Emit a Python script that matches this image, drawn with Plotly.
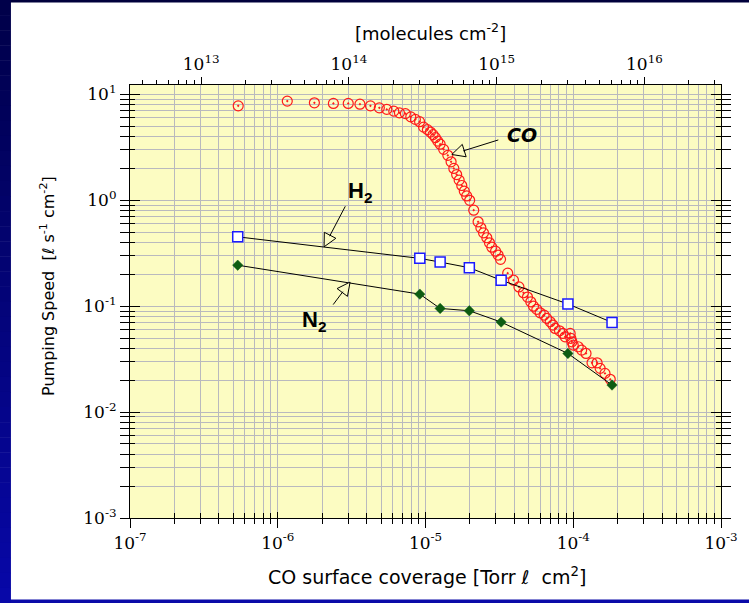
import math
import plotly.graph_objects as go

# ---- data -------------------------------------------------------------
# CO: pumping speed [l s^-1 cm^-2] vs. CO surface coverage [Torr l cm^-2]
co_cov = [5.4e-7, 1.16e-6, 1.77e-6, 2.38e-6, 3.0e-6, 3.6e-6, 4.24e-6, 4.87e-6,
          5.47e-6, 6.10e-6, 6.66e-6, 7.31e-6, 7.95e-6, 8.54e-6, 9.12e-6, 9.71e-6,
          1.03e-5, 1.08e-5, 1.125e-5, 1.167e-5, 1.21e-5, 1.256e-5, 1.327e-5,
          1.416e-5, 1.49e-5, 1.555e-5, 1.625e-5, 1.69e-5, 1.76e-5, 1.83e-5,
          1.90e-5, 1.99e-5, 2.12e-5, 2.27e-5, 2.37e-5, 2.47e-5, 2.60e-5, 2.71e-5,
          2.81e-5, 2.98e-5, 3.10e-5, 3.22e-5, 3.60e-5, 3.94e-5, 4.29e-5, 4.60e-5,
          4.90e-5, 5.16e-5, 5.38e-5, 5.67e-5, 5.97e-5, 6.35e-5, 6.62e-5, 6.98e-5,
          7.28e-5, 7.54e-5, 8.07e-5, 8.51e-5, 8.81e-5, 9.53e-5, 9.64e-5, 9.79e-5,
          1.00e-4, 1.08e-4, 1.14e-4, 1.22e-4, 1.34e-4, 1.45e-4, 1.52e-4, 1.64e-4,
          1.78e-4]
co_speed = [7.80, 8.65, 8.33, 8.22, 8.22, 8.09, 7.80, 7.47, 7.22, 6.95, 6.70,
            6.59, 6.14, 5.81, 5.53, 4.91, 4.65, 4.41, 4.17, 3.91, 3.62, 3.39,
            3.03, 2.66, 2.31, 2.00, 1.75, 1.55, 1.38, 1.22, 1.10, 1.00, 0.807,
            0.627, 0.550, 0.493, 0.443, 0.397, 0.361, 0.331, 0.304, 0.277, 0.205,
            0.176, 0.152, 0.134, 0.122, 0.110, 0.100, 0.0933, 0.0867, 0.0824,
            0.0767, 0.0713, 0.0664, 0.0617, 0.0586, 0.0553, 0.0514, 0.0553,
            0.0497, 0.0461, 0.0429, 0.0414, 0.0385, 0.0358, 0.0292, 0.0292,
            0.0259, 0.0232, 0.0204]

# H2 and N2 measured at the same CO coverages
gas_cov = [5.36e-7, 9.15e-6, 1.256e-5, 1.98e-5, 3.25e-5, 9.2e-5, 1.83e-4]
h2_speed = [0.452, 0.283, 0.261, 0.231, 0.176, 0.105, 0.0703]
n2_speed = [0.244, 0.130, 0.0953, 0.0906, 0.0708, 0.0358, 0.0180]

# 1 Torr l of gas = 3.3e19 molecules (room temperature)
MOLECULES_PER_TORR_L = 3.3e19

x_decades = [-7, -6, -5, -4, -3]
y_decades = [-3, -2, -1, 0, 1]
top_decades = [13, 14, 15, 16]

# ---- geometry ---------------------------------------------------------
W, H = 749, 603
ML, MR, MT, MB = 130, 28.3, 85, 85
PW, PH = W - ML - MR, H - MT - MB
X_RANGE = [-7, -3]
Y_RANGE = [-3, 1.089]


def px_x(px):
    return (px - ML) / PW


def px_y(py):
    return (H - MB - py) / PH


PLOT_BG = "#fcfcc2"
GRID = "#b9b9be"
TICK_FONT = dict(family="DejaVu Serif", size=17, color="black")


def title_font(size):
    return dict(family="DejaVu Sans", size=size, color="black")


def minor_vals(decades):
    return [m * 10.0 ** e for e in decades for m in range(2, 10)]


x_major = [10.0 ** e for e in x_decades]
x_minor = minor_vals(x_decades[:-1])
y_major = [10.0 ** e for e in y_decades]
y_minor = minor_vals(y_decades[:-1])
top_lo = math.log10(10.0 ** X_RANGE[0] * MOLECULES_PER_TORR_L)
top_hi = math.log10(10.0 ** X_RANGE[1] * MOLECULES_PER_TORR_L)
top_major = [10.0 ** e for e in top_decades]
top_minor = [v for v in minor_vals([12, 13, 14, 15, 16])
             if top_lo <= math.log10(v) <= top_hi]

fig = go.Figure()

fig.add_trace(go.Scatter(
    x=co_cov, y=co_speed, mode="markers", name="CO",
    marker=dict(symbol="circle-open-dot", size=10, color="#ff1a1a",
                line=dict(width=1.2, color="#ff1a1a")),
))
fig.add_trace(go.Scatter(
    x=gas_cov, y=h2_speed, mode="lines+markers", name="H2",
    line=dict(color="black", width=1),
    marker=dict(symbol="square", size=10, color="white",
                line=dict(width=1.5, color="#1a1aff")),
))
fig.add_trace(go.Scatter(
    x=gas_cov, y=n2_speed, mode="lines+markers", name="N2",
    line=dict(color="black", width=1),
    marker=dict(symbol="diamond", size=8, color="#0d5c12",
                line=dict(width=0.5, color="#0d5c12")),
))
# carriers for the overlay axes (top scale, inner ticks)
fig.add_trace(go.Scatter(x=[], y=[], xaxis="x2", yaxis="y", showlegend=False,
                         hoverinfo="skip"))
fig.add_trace(go.Scatter(x=[], y=[], xaxis="x3", yaxis="y3", showlegend=False,
                         hoverinfo="skip"))


# ---- annotation arrows with hollow heads ------------------------------
annotations = []
HEAD = 13


def add_arrow(tip_x, tip_y, tail_dx, tail_dy):
    lx, ly = math.log10(tip_x), math.log10(tip_y)
    annotations.append(dict(
        x=lx, y=ly, xref="x", yref="y", ax=tail_dx, ay=tail_dy,
        text="", showarrow=True, arrowhead=0, arrowwidth=1,
        arrowcolor="black", standoff=HEAD - 1,
    ))
    vx, vy = -tail_dx, -tail_dy
    angle = math.degrees(math.atan2(vx, -vy))
    fig.add_trace(go.Scatter(
        x=[tip_x], y=[tip_y], mode="markers", showlegend=False,
        hoverinfo="skip",
        marker=dict(symbol="arrow-up", size=HEAD, angle=angle, color=PLOT_BG,
                    line=dict(width=1, color="black")),
    ))


add_arrow(10 ** -4.822, 10 ** 0.433, 48, -15)     # CO
add_arrow(10 ** -5.6865, 10 ** -0.439, 22, -42)   # H2
add_arrow(10 ** -5.5105, 10 ** -0.772, -18, 24)   # N2


def label(px, py, text, font, **kw):
    return dict(x=px_x(px), y=px_y(py), xref="paper", yref="paper",
                xanchor="center", yanchor="middle", text=text,
                showarrow=False, font=font, **kw)


annotations += [
    label(522, 135, "<b><i>CO</i></b>",
          dict(family="DejaVu Sans", size=19, color="black")),
    label(360, 192, "<b>H<sub>2</sub></b>",
          dict(family="Liberation Sans", size=22, color="black")),
    label(314, 321, "<b>N<sub>2</sub></b>",
          dict(family="Liberation Sans", size=22, color="black")),
    # axis titles
    label(427, 576, "CO surface coverage [Torr ℓ  cm<sup>2</sup>]",
          title_font(19)),
    label(430, 32, "[molecules cm<sup>-2</sup>]", title_font(18)),
    label(47, 286, "Pumping Speed  [ℓ s<sup>-1</sup> cm<sup>-2</sup>]",
          title_font(16), textangle=-90),
]

# ---- slide frame strips -----------------------------------------------
shapes = [
    dict(type="rect", xref="paper", yref="paper", layer="below",
         x0=px_x(0), x1=px_x(W), y0=px_y(0), y1=px_y(2.5),
         fillcolor="#00003c", line=dict(width=0)),
    dict(type="rect", xref="paper", yref="paper", layer="below",
         x0=px_x(0), x1=px_x(W), y0=px_y(599.5), y1=px_y(H),
         fillcolor="#0a0aa8", line=dict(width=0)),
]
n_bands = 40
for i in range(n_bands):
    t = i / (n_bands - 1)
    r = int(8 * t)
    g = int(8 * t)
    b = int(74 + (168 - 74) * t)
    shapes.append(dict(
        type="rect", xref="paper", yref="paper", layer="below",
        x0=px_x(0), x1=px_x(11),
        y0=px_y(H * i / n_bands), y1=px_y(H * (i + 1) / n_bands + 0.5),
        fillcolor=f"rgb({r},{g},{b})", line=dict(width=0)))


def fmt(e):
    return f"10<sup>{e}</sup>"


fig.update_layout(
    width=W, height=H,
    margin=dict(l=ML, r=MR, t=MT, b=MB, pad=0),
    paper_bgcolor="white", plot_bgcolor=PLOT_BG,
    showlegend=False,
    annotations=annotations, shapes=shapes,
    xaxis=dict(
        type="log", range=X_RANGE, anchor="y",
        tickmode="array", tickvals=x_major, ticktext=[fmt(e) for e in x_decades],
        ticks="outside", ticklen=9, tickwidth=1, tickcolor="black",
        tickfont=TICK_FONT,
        showline=True, linecolor="black", linewidth=1.2, mirror=True,
        showgrid=True, gridcolor=GRID, gridwidth=1, zeroline=False,
        minor=dict(tickmode="array", tickvals=x_minor, ticks="outside",
                   ticklen=5, tickwidth=1, tickcolor="black",
                   showgrid=True, gridcolor=GRID, gridwidth=1),
    ),
    xaxis3=dict(
        type="log", range=X_RANGE, overlaying="x", anchor="y3",
        tickmode="array", tickvals=x_major, ticks="inside", ticklen=6,
        tickwidth=1, tickcolor="black", showticklabels=False,
        showgrid=False, showline=False, zeroline=False,
        minor=dict(tickmode="array", tickvals=x_minor, ticks="inside",
                   ticklen=5, tickwidth=1, tickcolor="black", showgrid=False),
    ),
    xaxis2=dict(
        type="log", range=[top_lo, top_hi], overlaying="x", side="top",
        anchor="y",
        tickmode="array", tickvals=top_major,
        ticktext=[fmt(e) for e in top_decades],
        ticks="outside", ticklen=7, tickwidth=1, tickcolor="black",
        tickfont=TICK_FONT, showgrid=False, showline=False, zeroline=False,
        minor=dict(tickmode="array", tickvals=top_minor, ticks="outside",
                   ticklen=4, tickwidth=1, tickcolor="black", showgrid=False),
    ),
    yaxis=dict(
        type="log", range=Y_RANGE, anchor="x",
        tickmode="array", tickvals=y_major, ticktext=[fmt(e) for e in y_decades],
        ticks="outside", ticklen=9, tickwidth=1, tickcolor="black",
        tickfont=TICK_FONT,
        showline=True, linecolor="black", linewidth=1.2, mirror="allticks",
        showgrid=True, gridcolor=GRID, gridwidth=1, zeroline=False,
        minor=dict(tickmode="array", tickvals=y_minor, ticks="outside",
                   ticklen=5, tickwidth=1, tickcolor="black",
                   showgrid=True, gridcolor=GRID, gridwidth=1),
    ),
    yaxis3=dict(
        type="log", range=Y_RANGE, overlaying="y", anchor="x3",
        tickmode="array", tickvals=y_major, ticks="inside", ticklen=10,
        tickwidth=1, tickcolor="black", showticklabels=False,
        mirror="allticks", showline=False,
        showgrid=False, zeroline=False,
        minor=dict(tickmode="array", tickvals=y_minor, ticks="inside",
                   ticklen=5, tickwidth=1, tickcolor="black", showgrid=False),
    ),
)

fig.write_html("out.html")
